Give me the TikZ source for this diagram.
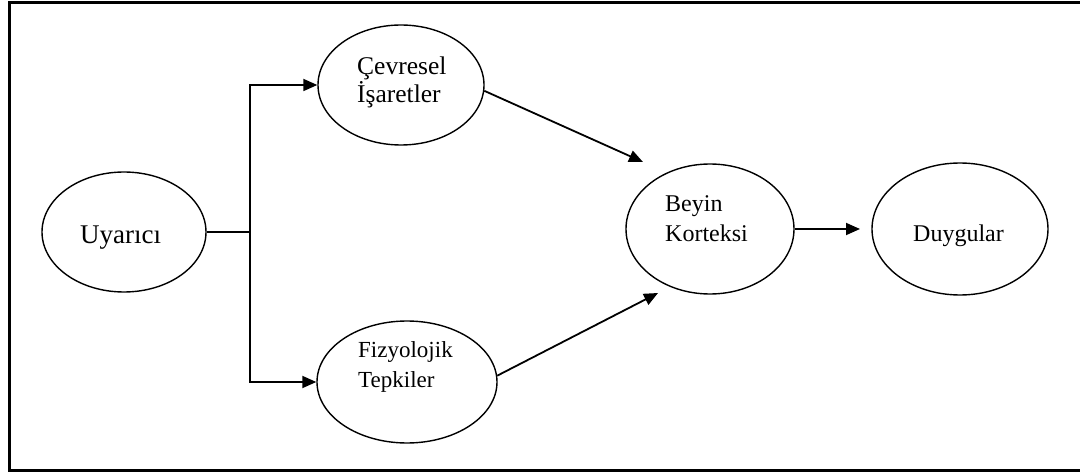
\documentclass[tikz,border=0pt]{standalone}
\usepackage{fontspec}
\setmainfont{Liberation Serif}
\usetikzlibrary{shapes.geometric,arrows.meta}
\begin{document}
\begin{tikzpicture}[x=1pt,y=-1pt,
  oval/.style={draw,ellipse,line width=1.4pt,inner sep=0pt},
  lbl/.style={anchor=base west,inner sep=0pt,font=\fontsize{25.5}{30}\selectfont},
  lblb/.style={anchor=base west,inner sep=0pt,font=\fontsize{27}{32}\selectfont},
  lbls/.style={anchor=base west,inner sep=0pt,font=\fontsize{23}{27}\selectfont},
  lblm/.style={anchor=base west,inner sep=0pt,font=\fontsize{24}{28}\selectfont},
  conn/.style={line width=1.8pt},
  arr/.style={line width=1.8pt,-{Triangle[length=14pt,width=12pt]}}]
\useasboundingbox (0,0) rectangle (1080,473);
\draw[line width=3pt] (9,3) rectangle (1090,470);
% ovals
\node[oval,minimum width=164pt,minimum height=120pt] (U) at (124,232) {};
\node[oval,minimum width=166pt,minimum height=120pt] (C) at (401,85) {};
\node[oval,minimum width=180pt,minimum height=122pt] (F) at (407,382) {};
\node[oval,minimum width=168pt,minimum height=130pt] (B) at (710,229) {};
\node[oval,minimum width=176pt,minimum height=132pt] (D) at (960,229) {};
% texts
\node[lblb] (tU) at (80,244) {Uyarıcı};
\node[lbl] (tC1) at (357,75) {Çevresel};
\node[lbl] (tC2) at (357,103) {İşaretler};
\node[lbls] (tF1) at (358,358) {Fizyolojik};
\node[lbls] (tF2) at (358,387) {Tepkiler};
\node[lblm] (tB1) at (665,212) {Beyin};
\node[lblm] (tB2) at (665,242) {Korteksi};
\node[lblm] (tD) at (913,242) {Duygular};
% connectors
\coordinate (j) at (250,232);
\coordinate (tipC) at (643,162);
\coordinate (tipF) at (658,293);
\coordinate (tipD) at (860,229);
\draw[conn] (U.east) -- (j);
\draw[arr] (j) |- (C.west);
\draw[arr] (j) |- (F.west);
\draw[arr] (C.-4) -- (tipC);
\draw[arr] (F.4) -- (tipF);
\draw[arr] (B.east) -- (tipD);
\end{tikzpicture}
\end{document}
